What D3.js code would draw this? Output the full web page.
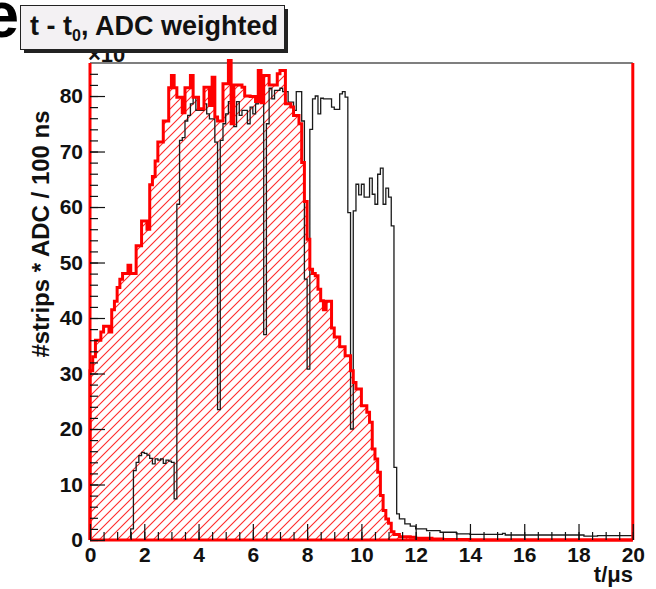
<!DOCTYPE html>
<html>
<head>
<meta charset="utf-8">
<script src="https://cdn.jsdelivr.net/npm/d3@7/dist/d3.min.js"></script>
<style>
    body { margin: 0; background: #ffffff; }
    svg text { font-family: "Liberation Sans", Arial, Helvetica, sans-serif; font-weight: bold; fill: #111; }
</style>
</head>
<body>
<svg id="chart" width="656" height="589"></svg>
<script>
// bins are 100 ns wide, 0 .. 20 us
const binWidth = 0.1;

// red, hatched histogram (all hits)
const redCounts = [
    30.5, 33, 36, 36, 37.5, 38.5, 38.5, 37.5, 41.5, 43,
    45.5, 47, 48, 48, 49.5, 48, 48, 53, 53, 57.5,
    57.5, 56, 64, 65.5, 68.3, 71.7, 71.7, 75.5, 75.5, 81.5,
    83.7, 81.5, 79.8, 79.8, 77, 81.5, 81.5, 83.7, 79.8, 79.8,
    77.7, 77.7, 81.6, 81.6, 78.3, 83.4, 76.2, 75.5, 75.5, 82.2,
    82.2, 86.4, 75, 82, 82, 82, 81.6, 80, 80, 79.9,
    79.9, 79, 84.6, 78.8, 83.7, 83.7, 82, 82, 82, 84,
    84.6, 84.6, 78.6, 78.6, 78, 76.5, 76.5, 75, 68, 61,
    54.2, 48.8, 48, 47.6, 45.2, 43.1, 41.5, 43, 43, 38.2,
    36.6, 36.6, 34.8, 34.8, 33.2, 33.2, 30.5, 28.4, 27.2, 27.2,
    24.2, 24.2, 23, 21.2, 16.4, 14.6, 12.2, 8, 5.3, 3.8,
    3.0, 1.5, 1.0, 1.0, 0.6, 0.6, 0.6, 0.6, 0.5, 0.5,
    0.3, 0.3, 0.3, 0.3, 0.3, 0.3, 0.2, 0.2, 0.2, 0.2,
    0.1, 0.1, 0.1, 0.1, 0.1, 0.1, 0.1, 0.1, 0.1, 0.1,
    0, 0, 0, 0, 0, 0, 0, 0, 0, 0,
    0, 0, 0, 0, 0, 0, 0, 0, 0, 0,
    0, 0, 0, 0, 0, 0, 0, 0, 0, 0,
    0, 0, 0, 0, 0, 0, 0, 0, 0, 0,
    0, 0, 0, 0, 0, 0, 0, 0, 0, 0,
    0, 0, 0, 0, 0, 0, 0, 0, 0, 0
];

// black outline histogram
const blackCounts = [
    0, 0, 0, 0, 0, 0, 0, 0, 0, 0,
    0, 0, 0, 0, 0, 2, 12.5, 14, 15.2, 15.8,
    15.6, 15.3, 14.7, 13.7, 14.6, 14.4, 14.6, 13.8, 14.4, 14.2,
    14, 7.4, 60.5, 72, 72.5, 75.5, 76.5, 78.6, 79.8, 77.4,
    77.4, 77.4, 78.6, 76.8, 75.9, 75.9, 71.7, 23.5, 72, 75,
    76.8, 79, 76.5, 74.5, 79, 76.5, 77.4, 77.4, 75, 78,
    76.8, 78.6, 79, 79, 37, 75, 81.4, 79.5, 81, 81,
    81.4, 80.8, 80.8, 78.9, 78.9, 77.4, 80.8, 80.8, 75.5, 47,
    30.8, 74, 79.5, 80, 76.8, 79.6, 79.5, 79.5, 79.5, 78,
    77.6, 77.6, 80.4, 80.8, 79.8, 59, 20, 59.3, 64.1, 62.2,
    64.1, 61.8, 61.8, 65.2, 62.3, 60.5, 65.9, 67, 60.5, 63.4,
    61.8, 56.6, 13.1, 4.7, 3.8, 3.8, 2.9, 2.9, 2.5, 2.5,
    2.0, 2.0, 2.0, 2.0, 1.7, 1.7, 1.7, 1.7, 1.7, 1.4,
    1.4, 1.4, 1.4, 1.4, 1.4, 1.1, 1.1, 1.1, 1.1, 1.1,
    1.0, 1.0, 1.0, 1.0, 1.0, 1.0, 1.0, 1.0, 1.0, 1.0,
    1.0, 1.0, 1.2, 0.9, 0.9, 0.9, 0.9, 0.9, 0.9, 0.9,
    0.9, 0.9, 0.9, 0.9, 0.9, 0.9, 0.9, 0.9, 0.9, 0.9,
    0.9, 0.9, 0.9, 0.9, 0.9, 0.9, 0.9, 0.9, 0.9, 0.9,
    0.9, 0.9, 0.7, 0.7, 0.7, 0.7, 0.7, 0.8, 0.8, 0.8,
    0.8, 0.8, 0.8, 0.8, 0.8, 0.8, 0.8, 0.8, 0.8, 0.8
];

const xMajorTicks = [0, 2, 4, 6, 8, 10, 12, 14, 16, 18, 20];
const yMajorTicks = [0, 10, 20, 30, 40, 50, 60, 70, 80];
const xMinorStep = 0.5;
const yMinorStep = 2;

class HistogramPlot {
    constructor(svgId){
        this.svg = d3.select('#' + svgId);
        this.left = 90;
        this.right = 632.8;
        this.top = 63;
        this.bottom = 540;
        this.x = d3.scaleLinear().domain([0, 20]).range([this.left, this.right]);
        this.y = d3.scaleLinear().domain([0, 85.95]).range([this.bottom, this.top]);
        this.line = d3.line()
            .x(d => this.x(d[0]))
            .y(d => this.y(d[1]));
    }

    Draw(){
        this.DrawPattern();
        this.DrawExponent();
        this.DrawHatchFill();
        this.DrawBlackHistogram();
        this.DrawFrame();
        this.DrawRedHistogram();
        this.DrawAxes();
        this.DrawLabels();
        this.DrawTitle();
    }

    // step outline of a histogram, from zero to zero
    StepPoints(counts){
        var pts = [[0, 0]];
        counts.forEach(function(v, i){
            pts.push([i * binWidth, v]);
            pts.push([(i + 1) * binWidth, v]);
        });
        pts.push([counts.length * binWidth, 0]);
        return pts;
    }

    DrawPattern(){
        var pattern = this.svg.append('defs').append('pattern')
            .attr('id', 'hatch')
            .attr('patternUnits', 'userSpaceOnUse')
            .attr('width', 9)
            .attr('height', 9);
        pattern.append('path')
            .attr('d', 'M-1,1 l2,-2 M0,9 l9,-9 M8,10 l2,-2')
            .style('stroke', '#ff2a2a')
            .style('stroke-width', 1.1);
    }

    // exponent label, mostly hidden under the title box
    DrawExponent(){
        this.svg.append('text')
            .attr('x', 88)
            .attr('y', 62)
            .attr('font-size', 22)
            .text('\u00d710');
    }

    DrawHatchFill(){
        this.svg.append('path')
            .attr('d', this.line(this.StepPoints(redCounts)) + 'Z')
            .style('fill', 'url(#hatch)')
            .style('stroke', 'none');
    }

    DrawBlackHistogram(){
        this.svg.append('path')
            .attr('d', this.line(this.StepPoints(blackCounts)))
            .style('fill', 'none')
            .style('stroke', '#1a1a1a')
            .style('stroke-width', 1.3);
    }

    DrawRedHistogram(){
        this.svg.append('path')
            .attr('d', this.line(this.StepPoints(redCounts)))
            .style('fill', 'none')
            .style('stroke', '#ff0000')
            .style('stroke-width', 3);
    }

    // frame: grey top, red sides and bottom
    DrawFrame(){
        this.svg.append('line')
            .attr('x1', this.left).attr('x2', this.right)
            .attr('y1', this.top).attr('y2', this.top)
            .style('stroke', '#555')
            .style('stroke-width', 1.5);
        var red = [
            [this.left, this.top, this.left, this.bottom],
            [this.right, this.top, this.right, this.bottom],
            [this.left, this.bottom, this.right, this.bottom]
        ];
        this.svg.selectAll('line.redframe')
            .data(red)
            .enter()
            .append('line')
            .classed('redframe', true)
            .attr('x1', d => d[0]).attr('y1', d => d[1])
            .attr('x2', d => d[2]).attr('y2', d => d[3])
            .style('stroke', '#ff0000')
            .style('stroke-width', 3);
    }

    DrawAxes(){
        var xMinor = d3.range(0, 20 + 1e-6, xMinorStep);
        var yMinor = d3.range(0, 86, yMinorStep);

        var gxMinor = this.svg.append('g')
            .attr('transform', 'translate(0,' + this.bottom + ')')
            .call(d3.axisBottom(this.x).tickValues(xMinor).tickSize(-8).tickFormat(''));
        var gx = this.svg.append('g')
            .attr('transform', 'translate(0,' + this.bottom + ')')
            .call(d3.axisBottom(this.x).tickValues(xMajorTicks).tickSize(-16).tickPadding(7).tickFormat(d3.format('d')));

        var gyMinor = this.svg.append('g')
            .attr('transform', 'translate(' + this.left + ',0)')
            .call(d3.axisLeft(this.y).tickValues(yMinor).tickSize(-8).tickFormat(''));
        var gy = this.svg.append('g')
            .attr('transform', 'translate(' + this.left + ',0)')
            .call(d3.axisLeft(this.y).tickValues(yMajorTicks).tickSize(-15).tickPadding(7).tickFormat(d3.format('d')));

        [gxMinor, gx, gyMinor, gy].forEach(function(g){
            g.select('.domain').remove();
            g.selectAll('.tick line').style('stroke', '#111').style('stroke-width', 1.2);
            g.selectAll('.tick text')
                .attr('font-size', 21)
                .attr('font-family', '"Liberation Sans", Arial, sans-serif')
                .style('fill', '#111');
        });
    }

    DrawLabels(){
        this.svg.append('text')
            .attr('transform', 'translate(49,234) rotate(-90)')
            .attr('text-anchor', 'middle')
            .attr('font-size', 24)
            .text('#strips * ADC / 100 ns');

        this.svg.append('text')
            .attr('x', 633)
            .attr('y', 582)
            .attr('text-anchor', 'end')
            .attr('font-size', 22)
            .text('t/\u03bcs');

        // panel letter, cut at the left edge as in the source figure
        this.svg.append('text')
            .attr('x', 19)
            .attr('y', 37)
            .attr('text-anchor', 'end')
            .attr('font-size', 64)
            .style('fill', '#000')
            .text('e');
    }

    DrawTitle(){
        var g = this.svg.append('g');
        g.append('rect')
            .attr('x', 24).attr('y', 9)
            .attr('width', 264).attr('height', 44)
            .style('fill', '#222');
        g.append('rect')
            .attr('x', 20.5).attr('y', 5.5)
            .attr('width', 264).attr('height', 44)
            .style('fill', '#f3f1f3')
            .style('stroke', '#222')
            .style('stroke-width', 1);
        var t = g.append('text')
            .attr('x', 154)
            .attr('y', 35)
            .attr('text-anchor', 'middle')
            .attr('font-size', 27);
        t.append('tspan').text('t - t');
        t.append('tspan').attr('font-size', 16).attr('dy', 6).text('0');
        t.append('tspan').attr('dy', -6).text(', ADC weighted');
    }
}

var plot = new HistogramPlot('chart');
plot.Draw();
</script>
</body>
</html>
